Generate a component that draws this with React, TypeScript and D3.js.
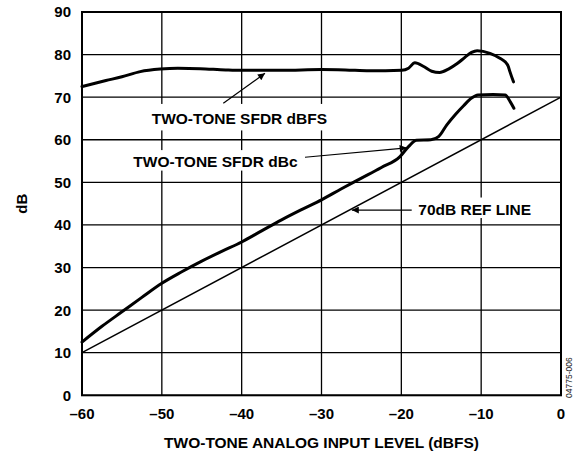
import React, { useLayoutEffect, useRef, useState } from "react";
import * as d3 from "d3";

const xTicks = [-60, -50, -40, -30, -20, -10, 0];
const yTicks = [0, 10, 20, 30, 40, 50, 60, 70, 80, 90];

const dbfsX = [-60, -57, -55, -52.7, -50.2, -48, -45.2, -42, -40, -35, -30, -27, -24, -22, -19.95, -19.1, -18.3, -17.2, -16.2, -15.2, -14.1, -13, -12, -11.2, -10.5, -8.9, -7.6, -7.0, -6.6, -6.4, -5.95];
const dbfsY = [72.5, 73.9, 74.8, 76.0, 76.6, 76.8, 76.7, 76.4, 76.3, 76.3, 76.5, 76.4, 76.2, 76.2, 76.3, 76.8, 78.1, 77.2, 76.1, 75.8, 76.6, 77.9, 79.4, 80.5, 80.9, 80.3, 79.1, 78.3, 77.2, 76.0, 73.6];

const dbcX = [-60, -57.5, -55, -52.5, -50, -47.5, -45, -42.5, -40, -37.5, -35, -32.5, -30, -27.5, -25, -22.5, -20.2, -19.1, -18.1, -16.3, -15.3, -14.3, -13.2, -12.2, -11.2, -10.4, -8.5, -7.0, -6.35, -5.9];
const dbcY = [12.5, 16.2, 19.6, 23.0, 26.3, 29.0, 31.5, 33.8, 36.0, 38.6, 41.2, 43.6, 45.9, 48.5, 51.0, 53.5, 56.0, 58.4, 59.9, 60.0, 60.8, 63.5, 66.0, 68.0, 69.8, 70.5, 70.6, 70.5, 68.9, 67.4];

const refX = [-60, 0];
const refY = [10, 70];

const labels = [
  { key: "dbfs", text: "TWO-TONE SFDR dBFS", x: -51.27, y: 63.6, padT: 9, padB: 6 },
  { key: "dbc", text: "TWO-TONE SFDR dBc", x: -53.57, y: 53.7, padT: 5, padB: 4 },
  { key: "ref", text: "70dB REF LINE", x: -17.87, y: 42.33, padT: 6, padB: 3 },
];

const arrows = [
  { from: [-42.3, 68.6], to: [-37.08, 75.6] },
  { from: [-32.07, 55.9], to: [-19.33, 58.1] },
  { from: [-18.7, 43.5], to: [-26.2, 43.5] },
];

const W = 574;
const H = 455;
const FONT = "'Liberation Sans', Arial, Helvetica, sans-serif";

export default function App() {
  const x = d3.scaleLinear().domain([-60, 0]).range([82, 561]);
  const y = d3.scaleLinear().domain([0, 90]).range([395.3, 12]);

  const line = d3
    .line<[number, number]>()
    .x((d) => x(d[0]))
    .y((d) => y(d[1]))
    .curve(d3.curveMonotoneX);
  const straight = d3
    .line<[number, number]>()
    .x((d) => x(d[0]))
    .y((d) => y(d[1]));

  const dbfsPts = dbfsX.map((v, i) => [v, dbfsY[i]] as [number, number]);
  const dbcPts = dbcX.map((v, i) => [v, dbcY[i]] as [number, number]);
  const refPts = refX.map((v, i) => [v, refY[i]] as [number, number]);

  const textRefs = useRef<Record<string, SVGTextElement | null>>({});
  const [boxes, setBoxes] = useState<Record<string, { x: number; y: number; w: number; h: number }>>({});

  useLayoutEffect(() => {
    const b: Record<string, { x: number; y: number; w: number; h: number }> = {};
    labels.forEach((l) => {
      const el = textRefs.current[l.key];
      if (el) {
        const bb = el.getBBox();
        const base = y(l.y);
        const top = base - 11.5 - l.padT;
        const bottom = base + l.padB;
        b[l.key] = { x: bb.x - 3, y: top, w: bb.width + 6, h: bottom - top };
      }
    });
    setBoxes(b);
  }, []);

  const fmt = (v: number) => (v < 0 ? "\u2013" + Math.abs(v) : String(v));

  return (
    <svg
      width={W}
      height={H}
      style={{ position: "absolute", left: 0, top: 0, background: "#fff" }}
      fontFamily={FONT}
    >
      <defs>
        <marker id="ah" viewBox="0 0 10 10" refX="10" refY="5" markerWidth="10" markerHeight="7" markerUnits="userSpaceOnUse" orient="auto">
          <path d="M0,0 L10,5 L0,10 Z" fill="#000" />
        </marker>
      </defs>
      <rect x={0} y={0} width={W} height={H} fill="#fff" />
      {xTicks.map((t) => (
        <line key={"gx" + t} x1={x(t)} x2={x(t)} y1={y(0)} y2={y(90)} stroke="#000" strokeWidth={1.3} />
      ))}
      {yTicks.map((t) => (
        <line key={"gy" + t} x1={x(-60)} x2={x(0)} y1={y(t)} y2={y(t)} stroke="#000" strokeWidth={1.3} />
      ))}
      {labels.map((l) =>
        boxes[l.key] ? (
          <rect key={"bg" + l.key} x={boxes[l.key].x} y={boxes[l.key].y} width={boxes[l.key].w} height={boxes[l.key].h} fill="#fff" />
        ) : null
      )}
      <rect x={x(-60)} y={y(90)} width={x(0) - x(-60)} height={y(0) - y(90)} fill="none" stroke="#000" strokeWidth={2} />
      <path d={straight(refPts) || ""} fill="none" stroke="#000" strokeWidth={1.5} />
      <path d={line(dbfsPts) || ""} fill="none" stroke="#000" strokeWidth={3} strokeLinejoin="round" strokeLinecap="round" />
      <path d={line(dbcPts) || ""} fill="none" stroke="#000" strokeWidth={3} strokeLinejoin="round" strokeLinecap="round" />
      {arrows.map((a, i) => (
        <line
          key={"ar" + i}
          x1={x(a.from[0])}
          y1={y(a.from[1])}
          x2={x(a.to[0])}
          y2={y(a.to[1])}
          stroke="#000"
          strokeWidth={1.2}
          markerEnd="url(#ah)"
        />
      ))}
      {labels.map((l) => (
        <text
          key={l.key}
          ref={(el) => {
            textRefs.current[l.key] = el;
          }}
          x={x(l.x)}
          y={y(l.y)}
          fontSize={15.5}
          fontWeight="bold"
          fill="#000"
        >
          {l.text}
        </text>
      ))}
      {yTicks.map((t) => (
        <text key={"yl" + t} x={71} y={y(t)} dy="0.36em" textAnchor="end" fontSize={15} fontWeight="bold">
          {fmt(t)}
        </text>
      ))}
      {xTicks.map((t) => (
        <text key={"xl" + t} x={x(t)} y={419} textAnchor="middle" fontSize={15} fontWeight="bold">
          {fmt(t)}
        </text>
      ))}
      <text x={(x(-60) + x(0)) / 2} y={447.5} textAnchor="middle" fontSize={15.5} fontWeight="bold">
        TWO-TONE ANALOG INPUT LEVEL (dBFS)
      </text>
      <text transform={`translate(27,${(y(0) + y(90)) / 2}) rotate(-90)`} textAnchor="middle" fontSize={15} fontWeight="bold">
        dB
      </text>
      <text transform="translate(572,398) rotate(-90)" fontSize={8.5} fill="#222">
        04775-006
      </text>
    </svg>
  );
}
